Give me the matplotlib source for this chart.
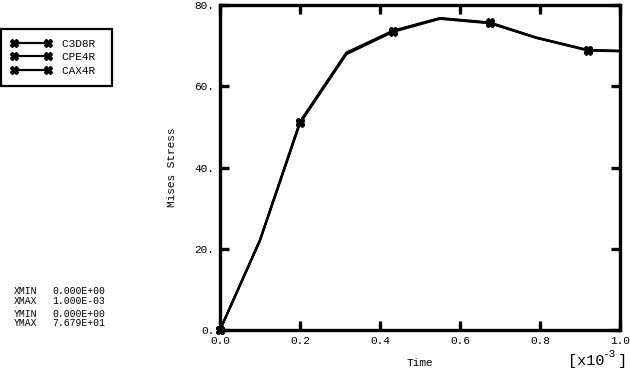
from matplotlib import pyplot as plt

# time in units of 1e-3
time = [0.0, 0.1, 0.2, 0.316, 0.433, 0.55, 0.675, 0.79, 0.92, 1.0]
c3d8r = [0.0, 22.2, 51.3, 68.3, 73.7, 76.79, 75.7, 72.0, 68.9, 68.7]
cpe4r = [0.0, 22.0, 50.9, 67.9, 73.4, 76.6, 75.5, 71.9, 68.8, 68.6]
cax4r = [0.0, 22.1, 51.1, 68.1, 73.6, 76.7, 75.6, 72.0, 68.9, 68.7]
names = ["C3D8R", "CPE4R", "CAX4R"]

font = "Liberation Mono"
fs = 8

fig = plt.figure(figsize=(6.3, 3.73), dpi=100)
ax = fig.add_axes([220 / 630, 1 - 330 / 373, 400 / 630, 325 / 373])

for y, n in zip([c3d8r, cpe4r, cax4r], names):
    ax.plot(time, y, color="black", lw=1.6, marker="X", ms=5.5,
            markevery=2, label=n, clip_on=False, zorder=3)

ax.set_xlim(0, 1.0)
ax.set_ylim(0, 80)
ax.set_xticks([0.0, 0.2, 0.4, 0.6, 0.8, 1.0])
ax.set_xticklabels(["0.0", "0.2", "0.4", "0.6", "0.8", "1.0"])
ax.set_yticks([0, 20, 40, 60, 80])
ax.set_yticklabels(["0.", "20.", "40.", "60.", "80."])
ax.tick_params(direction="in", length=6.5, width=2.4, top=True, right=True,
               labelsize=fs, pad=4)
for lab in ax.get_xticklabels() + ax.get_yticklabels():
    lab.set_family(font)
for s in ax.spines.values():
    s.set_linewidth(2.4)

ax.set_xlabel("Time", family=font, fontsize=fs, labelpad=9)
ax.set_ylabel("Mises Stress", family=font, fontsize=fs, labelpad=13)
fig.text(568 / 630, 1 - 361 / 373, "[x10", family=font, fontsize=11, va="center")
fig.text(602 / 630, 1 - 354 / 373, "-3", family=font, fontsize=8, va="center")
fig.text(618 / 630, 1 - 361 / 373, "]", family=font, fontsize=11, va="center")

leg = fig.legend(loc="upper left", bbox_to_anchor=(1 / 630, 1 - 29 / 373),
                 prop={"family": font, "size": fs}, fancybox=False,
                 edgecolor="black", handlelength=3.6, labelspacing=0.3,
                 borderpad=0.9, handletextpad=1.0, borderaxespad=0,
                 numpoints=2)
leg.get_frame().set_linewidth(1.6)
leg.get_frame().set_alpha(1)
for t in leg.get_texts():
    t.set_text(t.get_text() + " ")

info = [("XMIN", "0.000E+00", 291), ("XMAX", "1.000E-03", 301),
        ("YMIN", "0.000E+00", 314), ("YMAX", "7.679E+01", 323)]
for k, v, yp in info:
    fig.text(14 / 630, 1 - yp / 373, k, family=font, fontsize=7, va="center")
    fig.text(52 / 630, 1 - yp / 373, v, family=font, fontsize=7, va="center")

fig.savefig("out.png", dpi=100)
